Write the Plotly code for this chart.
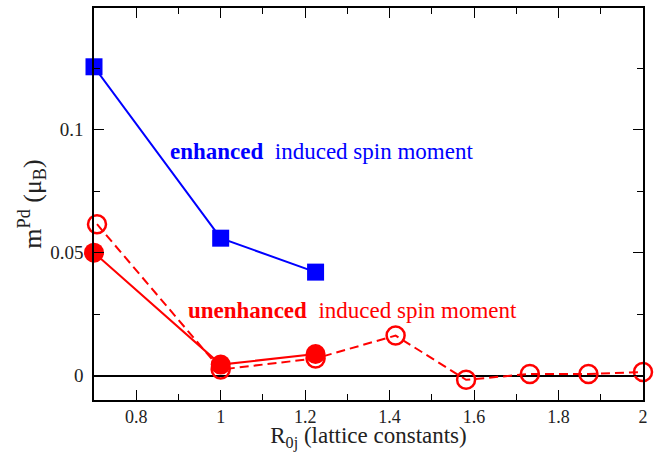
import plotly.graph_objects as go

# Data
x_enh = [0.7, 1.0, 1.2247]
y_enh = [0.1256, 0.0559, 0.0421]

x_unenh_solid = [0.7, 1.0, 1.2247]
y_unenh_solid = [0.0500, 0.0045, 0.0088]

x_unenh_dash = [0.7071, 1.0, 1.2247, 1.4142, 1.5811, 1.7321, 1.8708, 2.0]
y_unenh_dash = [0.0616, 0.0025, 0.0070, 0.0163, -0.0017, 0.0007, 0.0007, 0.0015]

x_ticks = [0.8, 1.0, 1.2, 1.4, 1.6, 1.8, 2.0]
x_tick_labels = ["0.8", "1", "1.2", "1.4", "1.6", "1.8", "2"]
x_minor = [0.9, 1.1, 1.3, 1.5, 1.7, 1.9]
y_ticks = [0.0, 0.05, 0.1]
y_tick_labels = ["0", "0.05", "0.1"]
y_minor = [0.025, 0.075, 0.125]

BLUE = "#0000ff"
RED = "#ff0000"
FONT = "Liberation Serif"

fig = go.Figure()
fig.add_trace(go.Scatter(
    x=x_enh, y=y_enh, mode="lines+markers",
    line=dict(color=BLUE, width=2),
    marker=dict(symbol="square", size=17, color=BLUE),
    showlegend=False, cliponaxis=False))
fig.add_trace(go.Scatter(
    x=x_unenh_dash, y=y_unenh_dash, mode="lines+markers",
    line=dict(color=RED, width=2, dash="9px,5px"),
    marker=dict(symbol="circle-open", size=18, color=RED, line=dict(width=2.5, color=RED)),
    showlegend=False, cliponaxis=False))
fig.add_trace(go.Scatter(
    x=x_unenh_solid, y=y_unenh_solid, mode="lines+markers",
    line=dict(color=RED, width=2),
    marker=dict(symbol="circle", size=20, color=RED),
    showlegend=False, cliponaxis=False))

fig.add_annotation(x=0.876, y=0.0913, xref="x", yref="y", xanchor="left", yanchor="middle",
                   text="<b>enhanced</b>&nbsp;&nbsp;induced spin moment", showarrow=False,
                   font=dict(family=FONT, size=23, color=BLUE))
fig.add_annotation(x=0.919, y=0.0264, xref="x", yref="y", xanchor="left", yanchor="middle",
                   text="<b>unenhanced</b>&nbsp;&nbsp;induced spin moment", showarrow=False,
                   font=dict(family=FONT, size=23, color=RED))

axis_common = dict(
    showline=True, linecolor="black", linewidth=1.5, mirror="allticks",
    ticks="inside", ticklen=10, tickwidth=1.2, tickcolor="black",
    showgrid=False, automargin=False,
)

fig.update_xaxes(
    range=[0.7, 2.0], tickvals=x_ticks, ticktext=x_tick_labels,
    tickfont=dict(family=FONT, size=18, color="#222222"),
    minor=dict(tickvals=x_minor, ticks="inside", ticklen=6, tickcolor="black", tickwidth=1.2, showgrid=False),
    zeroline=False,
    title=dict(text="R<sub>0j</sub> (lattice constants)", font=dict(family=FONT, size=23, color="#222222"), standoff=4),
    **axis_common)
fig.update_yaxes(
    range=[-0.0099, 0.1495], tickvals=y_ticks, ticktext=y_tick_labels,
    tickfont=dict(family=FONT, size=19, color="#222222"),
    minor=dict(tickvals=y_minor, ticks="inside", ticklen=6, tickcolor="black", tickwidth=1.2, showgrid=False),
    zeroline=True, zerolinecolor="black", zerolinewidth=2.2,
    ticklabelstandoff=5,
    title=dict(text="m<sup>Pd</sup> (μ<sub>B</sub>)", font=dict(family=FONT, size=26, color="#222222"), standoff=0),
    **axis_common)

fig.update_layout(
    width=668, height=452,
    margin=dict(l=94, r=25, t=8, b=52),
    plot_bgcolor="white", paper_bgcolor="white",
    font=dict(family=FONT),
)

fig.write_html("out.html", config={"displayModeBar": False},
               post_script="document.body.style.margin='0';")
